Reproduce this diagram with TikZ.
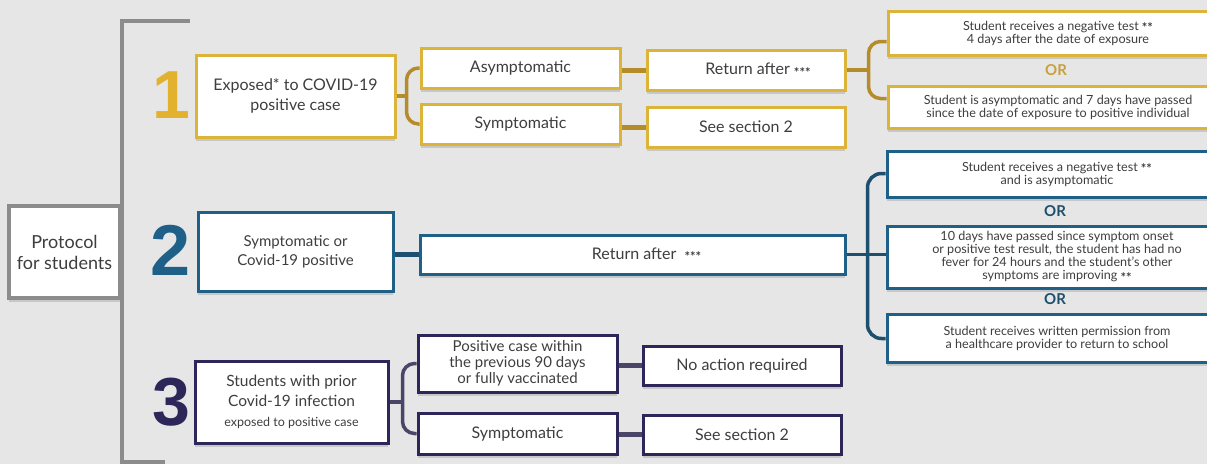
\documentclass[tikz,border=0pt]{standalone}
\usepackage{fontspec}
\setmainfont{Lato}
\newfontfamily\numfont{Liberation Sans}
\usetikzlibrary{shadows,calc}
\definecolor{bg}{HTML}{E6E6E6}
\definecolor{gold}{HTML}{DDB43A}
\definecolor{goldline}{HTML}{B48C2C}
\definecolor{goldnum}{HTML}{E2B12E}
\definecolor{goldor}{HTML}{C9A13A}
\definecolor{blu}{HTML}{1F6088}
\definecolor{bluline}{HTML}{1D4F6E}
\definecolor{navy}{HTML}{2C2758}
\definecolor{navyline}{HTML}{4A4668}
\definecolor{grayl}{HTML}{8C8C8C}
\definecolor{txt}{HTML}{3E3E3E}
\newcommand{\stars}[1]{{\fontsize{13}{13}\selectfont\bfseries\raisebox{-2.5pt}{#1}}}
\begin{document}
\begin{tikzpicture}[x=1pt,y=-1pt,
  box/.style={draw=#1, line width=3pt, fill=white, text=txt, align=center,
    inner sep=0pt, anchor=north west,
    drop shadow={shadow xshift=0pt, shadow yshift=-4pt, opacity=0.2, fill=black!70}},
  mainfont/.style={font=\fontsize{16}{20}\selectfont},
  smallfont/.style={font=\fontsize{12.6}{13}\selectfont},
  num/.style={text=#1, font=\numfont\bfseries\fontsize{68}{68}\selectfont, anchor=base, inner sep=0pt},
  orlabel/.style={text=#1, font=\bfseries\fontsize{15}{15}\selectfont, inner sep=0pt},
  gline/.style={draw=goldline, line width=3.5pt},
  gconn/.style={draw=goldline, line width=5pt},
  bline/.style={draw=bluline, line width=3.5pt},
  bconn/.style={draw=bluline, line width=5pt},
  nline/.style={draw=navyline, line width=3.5pt},
  nconn/.style={draw=navyline, line width=5pt},
  grayline/.style={draw=grayl, line width=4pt},
]
\clip (0,0) rectangle (1207,464);
\fill[bg] (0,0) rectangle (1207,464);

% outer gray bracket
\coordinate (gtop) at (190,21);
\coordinate (gbot) at (122,462);
\coordinate (gend) at (165,462);
\draw[grayline] (gtop) -| (gbot) -- (gend);

% protocol box
\node[box=grayl, line width=4pt, minimum width=111, minimum height=92, font=\fontsize{18}{21}\selectfont] (prot) at (7,204) {Protocol\\for students};

% numbers
\node[num=goldnum] (n1) at (171,118) {1};
\node[num=blu, font=\numfont\bfseries\fontsize{72}{72}\selectfont] (n2) at (171,275) {2};
\node[num=navy] (n3) at (171,425) {3};

% ---------- section 1 ----------
\node[box=gold, mainfont, minimum width=199, minimum height=82] (b1) at (194.5,53.5) {Exposed* to COVID-19\\positive case};
\node[box=gold, mainfont, minimum width=199, minimum height=40] (asym) at (419.5,46.5) {Asymptomatic};
\node[box=gold, mainfont, minimum width=199, minimum height=40] (symp1) at (419.5,102.5) {Symptomatic};
\node[box=gold, mainfont, minimum width=198, minimum height=40] (ret1) at (645.5,48.5) {\hspace*{24pt}Return after \stars{***}};
\node[box=gold, mainfont, minimum width=198, minimum height=40] (see1) at (645.5,105.5) {See section 2};
\node[box=gold, smallfont, minimum width=340, minimum height=44] (A) at (886.5,9.5) {Student receives a negative test \stars{**}\\4 days after the date of exposure};
\node[box=gold, smallfont, minimum width=340, minimum height=42] (B) at (886.5,84.5) {Student is asymptomatic and 7 days have passed\\since the date of exposure to positive individual};
\node[orlabel=goldor] (or1) at (1056,70) {OR};

\draw[gline] (b1.east) -- ++(10,0);
\draw[gline, rounded corners=12] (asym.west) -| ($(b1.east)+(10,0)$) |- (symp1.west);
\draw[gconn] (ret1.west) -- (ret1.west -| asym.east);
\draw[gconn] (see1.west) -- (see1.west -| symp1.east);
\draw[gline] (ret1.east) -- ++(22,0);
\draw[gline, rounded corners=12] ($(A.south west)+(0,-15)$) -| ($(ret1.east)+(22,0)$) |- ($(B.north west)+(0,14)$);

% ---------- section 2 ----------
\node[box=blu, font=\fontsize{15}{19}\selectfont, minimum width=195, minimum height=79] (b2) at (196.5,210.5) {Symptomatic or\\Covid-19 positive};
\node[box=blu, mainfont, minimum width=425, minimum height=39] (ret2) at (418.5,233.5) {\hspace*{28pt}Return after\ \ \stars{***}};
\node[box=blu, smallfont, minimum width=340, minimum height=46] (C) at (885.5,149.5) {Student receives a negative test \stars{**}\\and is asymptomatic};
\node[box=blu, smallfont, minimum width=340, minimum height=62] (D) at (885.5,224.5) {10 days have passed since symptom onset\\or positive test result, the student has had no\\fever for 24 hours and the student's other\\symptoms are improving \stars{**}};
\node[box=blu, smallfont, minimum width=340, minimum height=48] (E) at (885.5,312.5) {Student receives written permission from\\a healthcare provider to return to school};
\node[orlabel=bluline] (or2) at (1055,211) {OR};
\node[orlabel=bluline] (or3) at (1055,299) {OR};

\draw[bconn] (ret2.west) -- (ret2.west -| b2.east);
\draw[bline] (ret2.east) -- (ret2.east -| D.west);
\draw[bline, rounded corners=14] ($(C.south west)+(0,-25)$) -| ($(ret2.east)+(21,0)$) |- ($(E.north west)+(0,26)$);

% ---------- section 3 ----------
\node[box=navy, font=\fontsize{15.5}{20}\selectfont, minimum width=193, minimum height=82] (b3) at (193.5,359.5) {Students with prior\\Covid-19 infection\\\fontsize{12.5}{13}\selectfont exposed to positive case};
\node[box=navy, font=\fontsize{15}{16}\selectfont, minimum width=199, minimum height=57] (pos) at (416.5,333.5) {Positive case within\\the previous 90 days\\or fully vaccinated};
\node[box=navy, mainfont, minimum width=198, minimum height=39] (noact) at (641.5,344.5) {No action required};
\node[box=navy, mainfont, minimum width=199, minimum height=41] (symp3) at (416.5,411.5) {Symptomatic};
\node[box=navy, mainfont, minimum width=198, minimum height=39] (see3) at (641.5,413.5) {See section 2};

\draw[nline] (b3.east) -- ++(13,0);
\draw[nline, rounded corners=12] (pos.west) -| ($(b3.east)+(13,0)$) |- (symp3.west);
\draw[nconn] (noact.west) -- (noact.west -| pos.east);
\draw[nconn] (see3.west) -- (see3.west -| symp3.east);
\end{tikzpicture}
\end{document}
